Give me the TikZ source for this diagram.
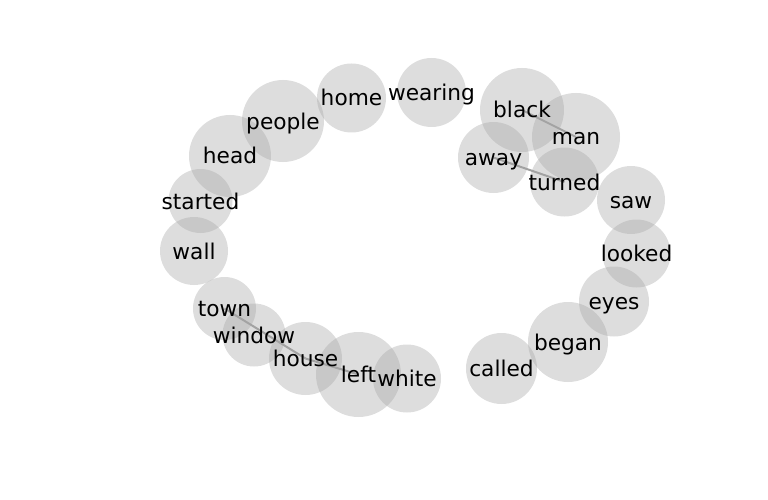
\documentclass[tikz,border=0pt]{standalone}
\usepackage{fontspec}
\setmainfont{DejaVu Sans}
\definecolor{bubblegray}{RGB}{166,166,166}
\definecolor{edgegray}{RGB}{160,160,160}
\begin{document}
\begin{tikzpicture}[x=1pt,y=-1pt,
  bubble/.style={fill=bubblegray, fill opacity=0.38},
  edge/.style={draw=edgegray, line width=2pt},
  lbl/.style={inner sep=0pt, text height=19pt, text depth=3pt, font=\fontsize{21.7pt}{24pt}\selectfont, text=black}]
\useasboundingbox (0,0) rectangle (768,500);
% positions
\coordinate (wearing) at (431.5,92.5);
\coordinate (home) at (351.5,98);
\coordinate (people) at (283,121);
\coordinate (head) at (230,156);
\coordinate (started) at (200.5,201);
\coordinate (wall) at (194,251);
\coordinate (town) at (224.5,308.5);
\coordinate (window) at (254,335);
\coordinate (house) at (305.5,358.5);
\coordinate (left) at (358.5,374.5);
\coordinate (white) at (407,378.5);
\coordinate (called) at (501.5,368.5);
\coordinate (began) at (568,342);
\coordinate (eyes) at (614,301.5);
\coordinate (looked) at (636.5,253.5);
\coordinate (saw) at (631,200);
\coordinate (turned) at (564.5,182);
\coordinate (man) at (576,137);
\coordinate (away) at (493.5,157.5);
\coordinate (black) at (522,110);
% edges
\draw[edge] (black) -- (man);
\draw[edge] (away) -- (turned);
\draw[edge] (town) -- (house);
\draw[edge] (house) -- (left);
% bubbles
\foreach \n/\r in {wearing/34.5, home/34.5, people/41, head/41, started/32, wall/34,
  town/31.5, window/31.5, house/36.5, left/42.5, white/34, called/35.5, began/40,
  eyes/35, looked/34, saw/34, turned/34.5, man/44, away/35.5, black/42}
  \fill[bubble] (\n) circle (\r pt);
% labels
\foreach \n in {wearing, home, people, head, started, wall, town, window, house, left,
  white, called, began, eyes, looked, saw, turned, man, away, black}
  \node[lbl] (\n-label) at (\n) {\n};
\end{tikzpicture}
\end{document}
